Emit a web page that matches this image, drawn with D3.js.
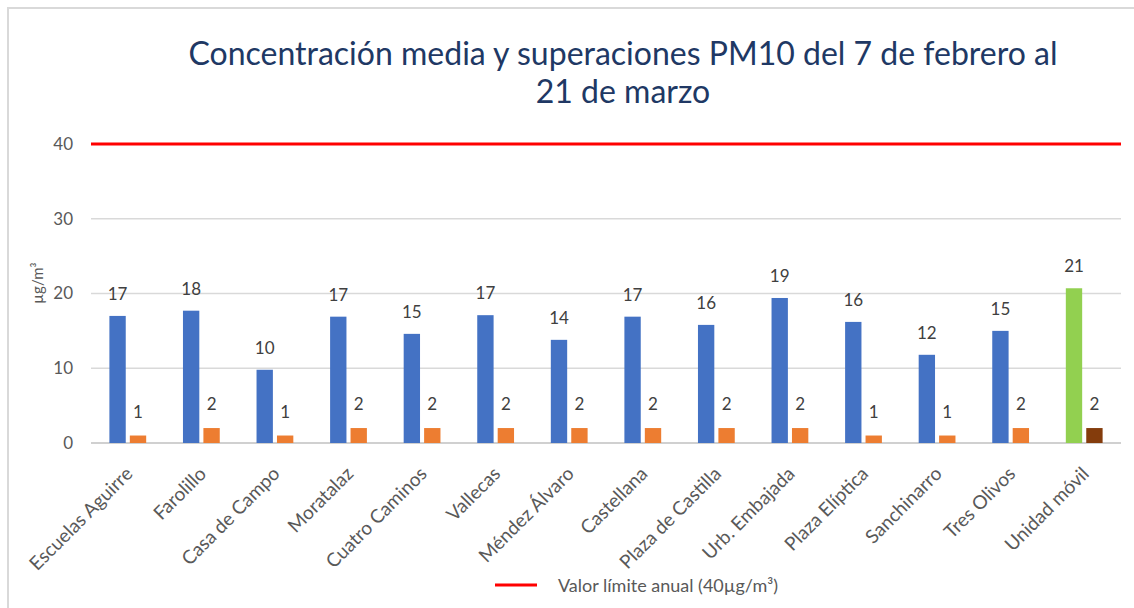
<!DOCTYPE html>
<html>
<head>
<meta charset="utf-8">
<script src="https://cdn.jsdelivr.net/npm/d3@7"></script>
<style>
  body { margin: 0; background: #fff; }
  text { font-family: Lato, "Open Sans", sans-serif; }
</style>
</head>
<body>
<div class="chart"></div>
<script>
const stations = ["Escuelas Aguirre", "Farolillo", "Casa de Campo", "Moratalaz", "Cuatro Caminos",
  "Vallecas", "Méndez Álvaro", "Castellana", "Plaza de Castilla", "Urb. Embajada",
  "Plaza Elíptica", "Sanchinarro", "Tres Olivos", "Unidad móvil"];
const mediaValues = [17.0, 17.7, 9.8, 16.9, 14.6, 17.1, 13.8, 16.9, 15.8, 19.4, 16.2, 11.8, 15.0, 20.7];
const superaciones = [1, 2, 1, 2, 2, 2, 2, 2, 2, 2, 1, 1, 2, 2];
const limitValue = 40;
const yTicks = [0, 10, 20, 30, 40];

const width = 1134, height = 608;
const plot = {left: 91, right: 1121, top: 144, bottom: 443};

const svg = d3.select('.chart').append('svg')
  .attr("width", width)
  .attr("height", height);

// chart area border
svg.append("rect")
  .attr("x", 8).attr("y", 8)
  .attr("width", width + 20).attr("height", height + 20)
  .attr("fill", "none")
  .attr("stroke", "#d9d9d9")
  .attr("stroke-width", 2);

const xScale = d3.scaleBand()
  .domain(stations)
  .range([plot.left, plot.right])
  .paddingInner(0.5)
  .paddingOuter(0.25);

const xSub = d3.scaleBand()
  .domain(["media", "sup"])
  .range([0, xScale.bandwidth()])
  .paddingInner(0.2);

const yScale = d3.scaleLinear()
  .domain([0, 40])
  .range([plot.bottom, plot.top]);

// gridlines
svg.selectAll(".grid")
  .data(yTicks.filter(d => d !== limitValue))
  .enter()
  .append("line")
  .attr("x1", plot.left).attr("x2", plot.right)
  .attr("y1", d => yScale(d)).attr("y2", d => yScale(d))
  .attr("stroke", d => d === 0 ? "#d0d0d0" : "#d9d9d9")
  .attr("stroke-width", d => d === 0 ? 2 : 1.5);

// y tick labels
svg.selectAll(".ytick")
  .data(yTicks)
  .enter()
  .append("text")
  .attr("x", 73)
  .attr("y", d => yScale(d))
  .attr("dy", "0.35em")
  .attr("text-anchor", "end")
  .attr("font-size", "17px")
  .attr("fill", "#595959")
  .text(d => d);

// y axis title
svg.append("text")
  .attr("transform", "translate(43,283) rotate(-90)")
  .attr("text-anchor", "middle")
  .attr("font-size", "15px")
  .attr("fill", "#595959")
  .text("µg/m³");

// limit line
svg.append("line")
  .attr("x1", plot.left).attr("x2", plot.right)
  .attr("y1", yScale(limitValue)).attr("y2", yScale(limitValue))
  .attr("stroke", "#ff0000")
  .attr("stroke-width", 3);

const isMobile = d => d === "Unidad móvil";

// mean bars
svg.selectAll(".media")
  .data(stations)
  .enter()
  .append("rect")
  .attr("x", d => xScale(d) + xSub("media"))
  .attr("y", (d, i) => yScale(mediaValues[i]))
  .attr("width", xSub.bandwidth())
  .attr("height", (d, i) => yScale(0) - yScale(mediaValues[i]))
  .attr("fill", d => isMobile(d) ? "#92d050" : "#4472c4");

// exceedance bars
svg.selectAll(".sup")
  .data(stations)
  .enter()
  .append("rect")
  .attr("x", d => xScale(d) + xSub("sup"))
  .attr("y", (d, i) => yScale(superaciones[i]))
  .attr("width", xSub.bandwidth())
  .attr("height", (d, i) => yScale(0) - yScale(superaciones[i]))
  .attr("fill", d => isMobile(d) ? "#843c0c" : "#ed7d31");

// value labels
svg.selectAll(".mlabel")
  .data(stations)
  .enter()
  .append("text")
  .attr("x", d => xScale(d) + xSub("media") + xSub.bandwidth() / 2)
  .attr("y", (d, i) => yScale(mediaValues[i]) - 16)
  .attr("text-anchor", "middle")
  .attr("font-size", "17px")
  .attr("fill", "#404040")
  .text((d, i) => Math.round(mediaValues[i]));

svg.selectAll(".slabel")
  .data(stations)
  .enter()
  .append("text")
  .attr("x", d => xScale(d) + xSub("sup") + xSub.bandwidth() / 2)
  .attr("y", (d, i) => yScale(superaciones[i]) - 18)
  .attr("text-anchor", "middle")
  .attr("font-size", "17px")
  .attr("fill", "#404040")
  .text((d, i) => superaciones[i]);

// category labels
svg.selectAll(".xlabel")
  .data(stations)
  .enter()
  .append("text")
  .attr("transform", d => `translate(${xScale(d) + xScale.bandwidth() / 2 + 6},475) rotate(-45)`)
  .attr("text-anchor", "end")
  .attr("font-size", "19px")
  .attr("fill", "#595959")
  .text(d => d);

// title
svg.append("text")
  .attr("x", 623).attr("y", 65)
  .attr("text-anchor", "middle")
  .attr("font-size", "32px")
  .attr("fill", "#203864")
  .text("Concentración media y superaciones PM10 del 7 de febrero al");
svg.append("text")
  .attr("x", 623).attr("y", 103)
  .attr("text-anchor", "middle")
  .attr("font-size", "32px")
  .attr("fill", "#203864")
  .text("21 de marzo");

// legend
svg.append("line")
  .attr("x1", 495).attr("x2", 537)
  .attr("y1", 585).attr("y2", 585)
  .attr("stroke", "#ff0000")
  .attr("stroke-width", 3);
svg.append("text")
  .attr("x", 558).attr("y", 592)
  .attr("font-size", "18px")
  .attr("fill", "#595959")
  .text("Valor límite anual (40µg/m³)");
</script>
</body>
</html>
